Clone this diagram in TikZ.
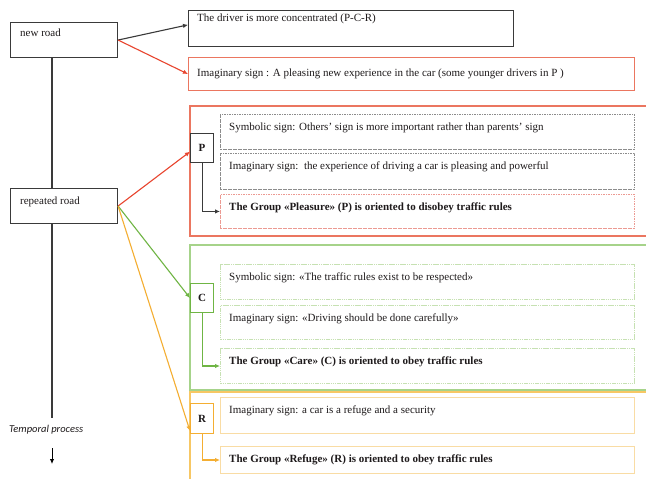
\documentclass[tikz,border=0pt]{standalone}
\usepackage{fontspec}
\setmainfont{Liberation Serif}
\newfontfamily\notefont{Carlito}
\usetikzlibrary{arrows.meta,calc}

\definecolor{ink}{HTML}{1E1A1B}
\definecolor{edgegray}{HTML}{3A3A3A}
\definecolor{redline}{HTML}{E8442E}
\definecolor{redframe}{HTML}{EB7660}
\definecolor{pinkdash}{HTML}{EC9A92}
\definecolor{graydash}{HTML}{8C8C8C}
\definecolor{greenline}{HTML}{6FB544}
\definecolor{greenframe}{HTML}{A6D38A}
\definecolor{greenpale}{HTML}{C6E1B2}
\definecolor{orangeline}{HTML}{F4AE32}
\definecolor{orangeframe}{HTML}{F7C764}
\definecolor{orangepale}{HTML}{F9DCA4}

\begin{document}
\begin{tikzpicture}[x=1pt,y=-1pt,
  font=\fontsize{11}{13}\selectfont,
  rect/.style args={#1 by #2}{anchor=north west, inner sep=0pt,
    minimum width=#1, minimum height=#2},
  lbl/.style={anchor=base west, inner sep=0pt, text=ink},
  solidbox/.style={draw=#1, line width=1.1pt},
  framebox/.style={draw=#1, line width=1.7pt},
  graybox/.style={draw=graydash, line width=0.9pt, dash pattern=on 1.6pt off 0.9pt},
  pinkbox/.style={draw=pinkdash, line width=0.9pt, dash pattern=on 1.6pt off 0.9pt},
  greenbox/.style={draw=greenpale, line width=1pt, dash pattern=on 1.5pt off 0.7pt},
  orangebox/.style={draw=orangepale, line width=1pt},
  link/.style={draw=#1, line width=1.1pt, -{Latex[length=5pt,width=4.5pt]}},
  letter/.style={text=ink, font=\fontsize{11}{13}\selectfont\bfseries}]

\useasboundingbox[fill=white] (0,0) rectangle (646,479);

% road boxes on the left
\node[rect=107 by 35, solidbox=edgegray] (new) at (10,22) {};
\node[lbl] (newt) at ($(new.north west)+(10,14)$) {new road};
\node[rect=107 by 35, solidbox=edgegray] (rep) at (10,188) {};
\node[lbl] (rept) at ($(rep.north west)+(10,16)$) {repeated road};

% time axis
\coordinate (tl) at (52,418);
\draw[edgegray, line width=1.3pt] (new.south -| tl) -- (rep.north -| tl);
\draw[edgegray, line width=1.3pt] (rep.south -| tl) -- (tl);
\node[anchor=west, inner sep=0pt, text=ink, font=\notefont\itshape\fontsize{10.5}{12}\selectfont] (tp) at (9,430) {Temporal process};
\coordinate (ta) at (52,448);
\coordinate (tb) at (52,464);
\draw[link=black, line width=0.9pt] (ta) -- (tb);

% first trip
\node[rect=325 by 36, solidbox=edgegray] (drv) at (188,10) {};
\node[lbl] (drvt) at ($(drv.north west)+(9,11)$) {The driver is more concentrated (P-C-R)};
\node[rect=446 by 33, solidbox=redframe] (img) at (188,57) {};
\node[lbl] (imgt) at ($(img.north west)+(9,19)$) {Imaginary sign : A pleasing new experience in the car (some younger drivers in P )};

\draw[link=edgegray] (new.east) -- ($(drv.north west)!0.4!(drv.south west)$);
\draw[link=redline] (new.east) -- (img.west);

% group P
\node[rect=461 by 130, framebox=redframe] (pf) at (189,105) {};
\node[rect=23 by 29, solidbox=edgegray] (P) at (190,133) {};
\node[letter] (Pt) at (P.center) {P};
\node[rect=414 by 35, graybox] (r1) at (220,114) {};
\node[lbl] (r1t) at ($(r1.north west)+(9,16)$) {Symbolic sign: Others' sign is more important rather than parents' sign};
\node[rect=414 by 36, graybox] (r2) at (220,153) {};
\node[lbl] (r2t) at ($(r2.north west)+(9,16)$) {Imaginary sign:\ \ the experience of driving a car is pleasing and powerful};
\node[rect=414 by 34, pinkbox] (r3) at (220,194) {};
\node[lbl, font=\fontsize{11}{13}\selectfont\bfseries] (r3t) at ($(r3.north west)+(9,16)$) {The Group «Pleasure» (P) is oriented to disobey traffic rules};

% group C
\node[rect=461 by 145, framebox=greenframe] (cf) at (189,244) {};
\node[rect=23 by 29, solidbox=greenline] (C) at (190,283) {};
\node[letter] (Ct) at (C.center) {C};
\node[rect=414 by 35, greenbox] (g1) at (220,264) {};
\node[lbl] (g1t) at ($(g1.north west)+(9,16)$) {Symbolic sign: «The traffic rules exist to be respected»};
\node[rect=414 by 34, greenbox] (g2) at (220,305) {};
\node[lbl] (g2t) at ($(g2.north west)+(9,16)$) {Imaginary sign: «Driving should be done carefully»};
\node[rect=414 by 35, greenbox] (g3) at (220,348) {};
\node[lbl, font=\fontsize{11}{13}\selectfont\bfseries] (g3t) at ($(g3.north west)+(9,16)$) {The Group «Care» (C) is oriented to obey traffic rules};

% group R
\node[rect=461 by 100, framebox=orangeframe] (of) at (189,391) {};
\node[rect=23 by 30, solidbox=orangeline] (R) at (190,403) {};
\node[letter] (Rt) at (R.center) {R};
\node[rect=414 by 36, orangebox] (o1) at (220,397) {};
\node[lbl] (o1t) at ($(o1.north west)+(9,16)$) {Imaginary sign: a car is a refuge and a security};
\node[rect=414 by 27, orangebox] (o2) at (220,446) {};
\node[lbl, font=\fontsize{11}{13}\selectfont\bfseries] (o2t) at ($(o2.north west)+(9,16)$) {The Group «Refuge» (R) is oriented to obey traffic rules};

% links from the repeated road
\draw[link=redline] (rep.east) -- ($(P.north west)!0.62!(P.south west)$);
\draw[link=greenline] (rep.east) -- (C.west);
\draw[link=orangeline] (rep.east) -- ($(R.north west)!0.9!(R.south west)$);

% links to each group's orientation
\draw[link=edgegray] (P.south) |- (r3.west);
\draw[link=greenline] (C.south) |- (g3.west);
\draw[link=orangeline] (R.south) |- (o2.west);
\end{tikzpicture}
\end{document}
